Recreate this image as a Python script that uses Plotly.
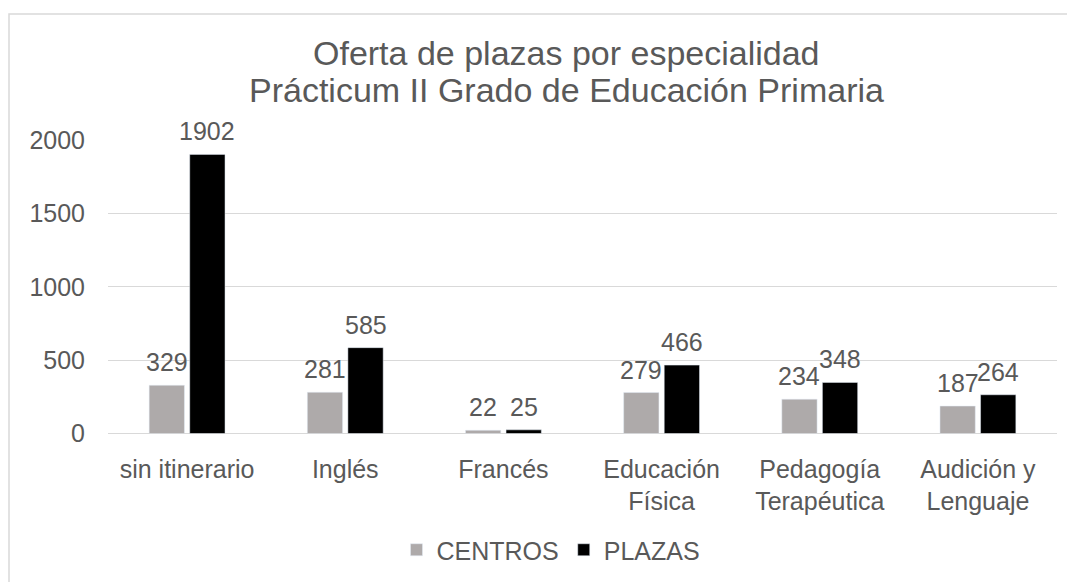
import plotly.graph_objects as go

categories = ["sin itinerario", "Inglés", "Francés", "Educación<br>Física",
              "Pedagogía<br>Terapéutica", "Audición y<br>Lenguaje"]
centros = [329, 281, 22, 279, 234, 187]
plazas = [1902, 585, 25, 466, 348, 264]
y_ticks = [0, 500, 1000, 1500, 2000]
title_lines = ["Oferta de plazas por especialidad", "Prácticum II Grado de Educación Primaria"]

FONT = "Liberation Sans, Arial, sans-serif"
TXT = "#595959"
W, H = 1067, 574
L, R, T, B = 100, 18, 132, 146
PW, PH = W - L - R, H - T - B

fig = go.Figure()
fig.add_trace(go.Bar(name="CENTROS", x=categories, y=centros, marker_color="#AEAAAA"))
fig.add_trace(go.Bar(name="PLAZAS", x=categories, y=plazas, marker_color="#000000"))

annotations = []
for cat, vc, vp in zip(categories, centros, plazas):
    for v, dx in ((vc, -20.3), (vp, 20.3)):
        annotations.append(dict(x=cat, y=v, xref="x", yref="y", text=str(v), showarrow=False,
                                xshift=dx, yanchor="bottom", yshift=7,
                                font=dict(size=25, color=TXT, family=FONT)))
for i, (line, ypx) in enumerate(zip(title_lines, (44, 82))):
    annotations.append(dict(x=(558 - L) / PW, y=(T + PH - ypx) / PH, xref="paper", yref="paper",
                            text=line, showarrow=False, xanchor="center", yanchor="middle",
                            font=dict(size=34, color=TXT, family=FONT)))

fig.update_layout(
    width=W, height=H,
    paper_bgcolor="white", plot_bgcolor="white",
    margin=dict(l=L, r=R, t=T, b=B),
    font=dict(family=FONT, color=TXT, size=25),
    barmode="group", bargap=0.487, bargroupgap=0.13,
    showlegend=True,
    legend=dict(orientation="h", x=543 / W, xref="container", xanchor="center",
                y=1 - 542 / H, yref="container", yanchor="middle",
                font=dict(size=25, color=TXT, family=FONT), itemwidth=30,
                traceorder="normal"),
    xaxis=dict(showgrid=False, showline=False, ticks="", ticklabelstandoff=18,
               tickfont=dict(size=25, color=TXT)),
    yaxis=dict(range=[0, 2000], tickvals=y_ticks, showgrid=True, gridcolor="#D9D9D9",
               gridwidth=1, zeroline=True, zerolinecolor="#D9D9D9", zerolinewidth=1,
               showline=False, ticks="", ticklabelstandoff=22,
               tickfont=dict(size=25, color=TXT)),
    annotations=annotations,
    shapes=[dict(type="rect", xref="paper", yref="paper",
                 x0=(1 - L) / PW, x1=1.2, y0=-1.0, y1=(T + PH - 5) / PH,
                 line=dict(color="#D9D9D9", width=1.5), fillcolor="rgba(0,0,0,0)", layer="below")],
)

fig.write_html("out.html")
